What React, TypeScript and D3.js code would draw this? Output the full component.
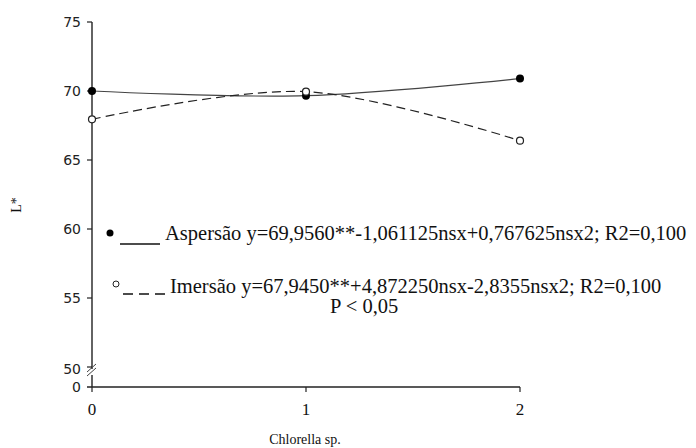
import React from "react";
import * as d3 from "d3";

const doses = [0, 1, 2];
const aspersao = [70.0, 69.66, 70.9];
const imersao = [67.95, 69.95, 66.4];
const yTicks = [50, 55, 60, 65, 70, 75];
const xTicks = [0, 1, 2];
const legendAsp = "Aspersão y=69,9560**-1,061125nsx+0,767625nsx2; R2=0,100";
const legendImm = "Imersão y=67,9450**+4,872250nsx-2,8355nsx2; R2=0,100";
const pText = "P < 0,05";
const xTitle = "Chlorella sp.";
const yTitle = "L*";

export default function App() {
  const W = 696, H = 448;
  const x = d3.scaleLinear().domain([0, 2]).range([92, 520]);
  const y = d3.scaleLinear().domain([50, 75]).range([367, 22]);
  const baseY = 387;
  const serif = "'Liberation Serif', 'Times New Roman', serif";
  const sans = "'DejaVu Sans', Verdana, sans-serif";

  const line = d3
    .line<number>()
    .x((_, i) => x(doses[i]))
    .y((d) => y(d))
    .curve(d3.curveCardinal.tension(0));

  return (
    <div style={{ position: "absolute", left: 0, top: 0 }}>
      <svg width={W} height={H} style={{ display: "block", background: "#fff" }}>
        {/* y axis */}
        <line x1={x(0)} x2={x(0)} y1={y(75)} y2={369} stroke="#222" strokeWidth={1.4} />
        <line x1={x(0)} x2={x(0)} y1={375} y2={baseY} stroke="#222" strokeWidth={1.4} />
        <line x1={87} x2={96} y1={372} y2={364} stroke="#444" strokeWidth={1} />
        <line x1={87} x2={96} y1={376} y2={368} stroke="#444" strokeWidth={1} />
        {yTicks.map((t) => (
          <g key={t}>
            <line x1={87} x2={x(0)} y1={y(t)} y2={y(t)} stroke="#222" strokeWidth={1.2} />
            <text
              x={81}
              y={y(t) + (t === 50 ? 2 : 0)}
              textAnchor="end"
              dominantBaseline="central"
              fontFamily={sans}
              fontSize={14}
              fill="#222"
            >
              {t}
            </text>
          </g>
        ))}
        <text x={81} y={baseY} textAnchor="end" dominantBaseline="central" fontFamily={sans} fontSize={14} fill="#222">
          0
        </text>
        {/* x axis */}
        <line x1={87} x2={x(2)} y1={baseY} y2={baseY} stroke="#222" strokeWidth={1.4} />
        {xTicks.map((t) => (
          <g key={t}>
            <line x1={x(t)} x2={x(t)} y1={baseY} y2={baseY + 5} stroke="#222" strokeWidth={1.2} />
            <text x={x(t)} y={415} textAnchor="middle" fontFamily={serif} fontSize={17} fill="#111">
              {t}
            </text>
          </g>
        ))}
        <text x={305} y={444} textAnchor="middle" fontFamily={serif} fontSize={14} fill="#111">
          {xTitle}
        </text>
        <text
          transform="translate(21,205) rotate(-90)"
          textAnchor="middle"
          fontFamily={serif}
          fontSize={14}
          fill="#111"
        >
          {yTitle}
        </text>

        {/* series */}
        <path d={line(aspersao) || ""} fill="none" stroke="#444" strokeWidth={1.2} />
        <path d={line(imersao) || ""} fill="none" stroke="#222" strokeWidth={1.2} strokeDasharray="9,5" />
        {aspersao.map((v, i) => (
          <circle key={"a" + i} cx={x(doses[i])} cy={y(v)} r={4} fill="#000" />
        ))}
        {imersao.map((v, i) => (
          <circle key={"i" + i} cx={x(doses[i])} cy={y(v)} r={3.5} fill="#fff" stroke="#222" strokeWidth={1.2} />
        ))}

        {/* legend */}
        <circle cx={110} cy={233} r={3.5} fill="#000" />
        <line x1={120} x2={160} y1={244} y2={244} stroke="#111" strokeWidth={1.3} />
        <text x={165} y={240} fontFamily={serif} fontSize={20.5} fill="#111">
          {legendAsp}
        </text>
        <circle cx={116} cy={284} r={3} fill="#fff" stroke="#222" strokeWidth={1} />
        <line x1={123} x2={166} y1={294} y2={294} stroke="#111" strokeWidth={1.3} strokeDasharray="10,6" />
        <text x={170} y={293} fontFamily={serif} fontSize={20.5} fill="#111">
          {legendImm}
        </text>
        <text x={330} y={313} fontFamily={serif} fontSize={20.5} fill="#111">
          {pText}
        </text>
      </svg>
    </div>
  );
}
